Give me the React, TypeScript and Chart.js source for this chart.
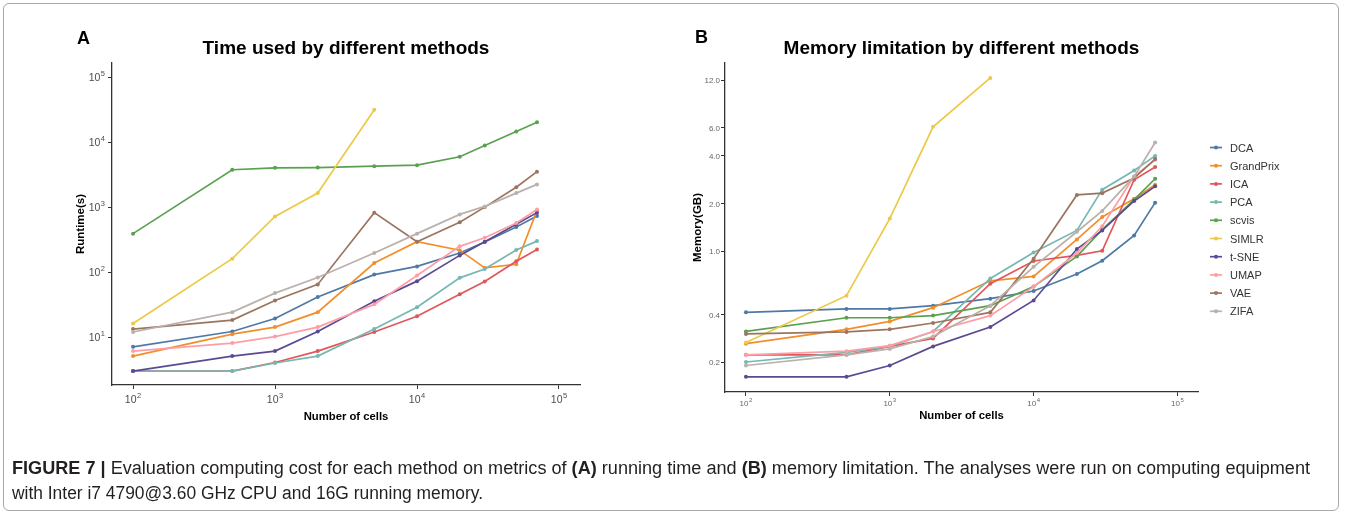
import React, { useEffect, useRef } from "react";
import { Chart, registerables } from "chart.js";

Chart.register(...registerables);

const FONT = "'Liberation Sans', Arial, Helvetica, sans-serif";

const methods = ["DCA", "GrandPrix", "ICA", "PCA", "scvis", "SIMLR", "t-SNE", "UMAP", "VAE", "ZIFA"];
const colors = ["#4E79A7", "#F28E2B", "#E15759", "#76B7B2", "#59A14F", "#EDC948", "#5B4A92", "#FF9DA7", "#9C755F", "#BAB0AC"];
const cells = [100, 500, 1000, 2000, 5000, 10000, 20000, 30000, 50000, 70000];

// Runtime (s)
const runtimeDCA = [7.1, 12.2, 19.4, 41.6, 92, 123, 198, 292, 500, 735];
const runtimeGrandPrix = [5.1, 11.1, 14.3, 24.3, 139, 296, 219, 117, 133, 900];
const runtimeICA = [3.0, 3.0, 4.07, 6.1, 12, 21, 46, 72, 148, 224];
const runtimePCA = [3.0, 3.0, 4.0, 5.1, 13.3, 29, 82, 112, 220, 302];
const runtimeScvis = [394, 3800, 4070, 4100, 4320, 4470, 6030, 8990, 14800, 20500];
const runtimeSIMLR = [16.2, 162, 725, 1660, 32000];
const runtimeTSNE = [3.0, 5.1, 6.1, 12.2, 35.8, 73, 182, 296, 550, 830];
const runtimeUMAP = [6.1, 8.1, 10.2, 14.3, 32, 89, 251, 340, 575, 930];
const runtimeVAE = [13.3, 18.3, 36.7, 65, 830, 296, 590, 1010, 2040, 3550];
const runtimeZIFA = [12, 24.3, 47.7, 83, 198, 394, 780, 1035, 1660, 2260];

// Memory (GB)
const memoryDCA = [0.413, 0.434, 0.434, 0.455, 0.504, 0.563, 0.72, 0.874, 1.26, 2.03];
const memoryGrandPrix = [0.262, 0.323, 0.362, 0.442, 0.653, 0.696, 1.19, 1.65, 2.15, 2.63];
const memoryICA = [0.223, 0.223, 0.252, 0.283, 0.626, 0.87, 0.944, 1.01, 2.83, 3.4];
const memoryPCA = [0.201, 0.231, 0.252, 0.313, 0.676, 0.985, 1.356, 2.45, 3.24, 4.0];
const memoryScvis = [0.313, 0.382, 0.382, 0.394, 0.455, 0.6, 0.93, 1.37, 2.12, 2.87];
const memorySIMLR = [0.267, 0.526, 1.61, 6.1, 12.4];
const memoryTSNE = [0.162, 0.162, 0.191, 0.252, 0.334, 0.491, 1.035, 1.356, 2.08, 2.57];
const memoryUMAP = [0.223, 0.235, 0.255, 0.313, 0.394, 0.6, 0.977, 1.44, 2.97, 3.78];
const memoryVAE = [0.302, 0.311, 0.323, 0.354, 0.413, 0.9, 2.27, 2.33, 2.9, 3.82];
const memoryZIFA = [0.191, 0.223, 0.243, 0.291, 0.455, 0.8, 1.33, 1.8, 2.97, 4.86];

const runtimeSeries = [runtimeDCA, runtimeGrandPrix, runtimeICA, runtimePCA, runtimeScvis, runtimeSIMLR, runtimeTSNE, runtimeUMAP, runtimeVAE, runtimeZIFA];
const memorySeries = [memoryDCA, memoryGrandPrix, memoryICA, memoryPCA, memoryScvis, memorySIMLR, memoryTSNE, memoryUMAP, memoryVAE, memoryZIFA];

const xTickValues = [100, 1000, 10000, 100000];
const xTickExponents = ["2", "3", "4", "5"];
const runtimeTickValues = [10, 100, 1000, 10000, 100000];
const runtimeTickExponents = ["1", "2", "3", "4", "5"];
const memoryTickValues = [0.2, 0.4, 1, 2, 4, 6, 12];
const memoryTickLabels = ["0.2", "0.4", "1.0", "2.0", "4.0", "6.0", "12.0"];

const captionLine1Bold = "FIGURE 7 | ";
const captionLine1 = "Evaluation computing cost for each method on metrics of ";
const captionLine1b = " running time and ";
const captionLine1c = " memory limitation. The analyses were run on computing equipment";
const captionLine2 = "with Inter i7 4790@3.60 GHz CPU and 16G running memory.";

function buildDatasets(series: number[][]) {
  return methods.map((m, i) => ({
    label: m,
    data: series[i].map((v, j) => ({ x: cells[j], y: v })),
    borderColor: colors[i],
    backgroundColor: colors[i],
    borderWidth: 1.7,
    pointRadius: 2,
    pointBorderWidth: 0,
    pointBackgroundColor: colors[i],
    tension: 0,
    fill: false,
    order: methods.length - i,
  }));
}

function drawPow(ctx: CanvasRenderingContext2D, exp: string, x: number, baseline: number, baseSize: number, supSize: number, supRaise: number, align: "center" | "right", color: string) {
  ctx.save();
  ctx.fillStyle = color;
  ctx.textAlign = "left";
  ctx.textBaseline = "alphabetic";
  ctx.font = `${baseSize}px ${FONT}`;
  const w10 = ctx.measureText("10").width;
  ctx.font = `${supSize}px ${FONT}`;
  const wE = ctx.measureText(exp).width;
  const total = w10 + wE + 0.5;
  const start = align === "center" ? x - total / 2 : x - total;
  ctx.font = `${baseSize}px ${FONT}`;
  ctx.fillText("10", start, baseline);
  ctx.font = `${supSize}px ${FONT}`;
  ctx.fillText(exp, start + w10 + 0.5, baseline - supRaise);
  ctx.restore();
}

function axisCommon(afterFit: (s: any) => void, ticksList: number[]) {
  return {
    type: "logarithmic" as const,
    afterBuildTicks: (s: any) => {
      s.ticks = ticksList.map((v) => ({ value: v }));
    },
    afterFit,
    ticks: { callback: () => "", autoSkip: false, maxRotation: 0, padding: 0 },
    grid: { drawOnChartArea: false, drawTicks: true, tickLength: 4, color: "#333", lineWidth: 1 },
    border: { display: true, color: "#333", width: 1.3 },
  };
}

const panelAPlugin = {
  id: "panelAText",
  afterDraw(chart: any) {
    const ctx: CanvasRenderingContext2D = chart.ctx;
    const ca = chart.chartArea;
    const xs = chart.scales.x;
    const ys = chart.scales.y;
    const cx = (ca.left + ca.right) / 2;
    ctx.save();
    ctx.fillStyle = "#000";
    ctx.textBaseline = "alphabetic";
    ctx.textAlign = "left";
    ctx.font = `bold 18px ${FONT}`;
    ctx.fillText("A", 77, 44);
    ctx.textAlign = "center";
    ctx.font = `bold 19px ${FONT}`;
    ctx.fillText("Time used by different methods", cx, 54);
    ctx.font = `bold 11.3px ${FONT}`;
    ctx.fillText("Number of cells", cx, 420);
    ctx.save();
    ctx.translate(83.5, (ca.top + ca.bottom) / 2);
    ctx.rotate(-Math.PI / 2);
    ctx.font = `bold 11.5px ${FONT}`;
    ctx.fillText("Runtime(s)", 0, 0);
    ctx.restore();
    ctx.restore();
    xTickValues.forEach((v, i) => {
      drawPow(ctx, xTickExponents[i], xs.getPixelForValue(v), 403, 10.5, 7.5, 5, "center", "#4d4d4d");
    });
    runtimeTickValues.forEach((v, i) => {
      const y = ys.getPixelForValue(v);
      drawPow(ctx, runtimeTickExponents[i], 105, y + 3.8, 10.5, 7.5, 5, "right", "#4d4d4d");
    });
  },
};

const panelBPlugin = {
  id: "panelBText",
  afterDraw(chart: any) {
    const ctx: CanvasRenderingContext2D = chart.ctx;
    const ca = chart.chartArea;
    const xs = chart.scales.x;
    const ys = chart.scales.y;
    const cx = (ca.left + ca.right) / 2;
    ctx.save();
    ctx.fillStyle = "#000";
    ctx.textBaseline = "alphabetic";
    ctx.textAlign = "left";
    ctx.font = `bold 18px ${FONT}`;
    ctx.fillText("B", 15, 43);
    ctx.textAlign = "center";
    ctx.font = `bold 19px ${FONT}`;
    ctx.fillText("Memory limitation by different methods", cx, 54);
    ctx.font = `bold 11.3px ${FONT}`;
    ctx.fillText("Number of cells", cx, 419);
    ctx.save();
    ctx.translate(20.5, (ca.top + ca.bottom) / 2);
    ctx.rotate(-Math.PI / 2);
    ctx.font = `bold 11.5px ${FONT}`;
    ctx.fillText("Memory(GB)", 0, 0);
    ctx.restore();
    // y tick labels
    ctx.fillStyle = "#666";
    ctx.textAlign = "right";
    ctx.font = `8px ${FONT}`;
    memoryTickValues.forEach((v, i) => {
      ctx.fillText(memoryTickLabels[i], 40, ys.getPixelForValue(v) + 3);
    });
    // legend
    methods.forEach((m, i) => {
      const y = 147.5 + i * 18.2;
      ctx.strokeStyle = colors[i];
      ctx.lineWidth = 1.7;
      ctx.beginPath();
      ctx.moveTo(530, y);
      ctx.lineTo(542, y);
      ctx.stroke();
      ctx.fillStyle = colors[i];
      ctx.beginPath();
      ctx.arc(536, y, 2, 0, Math.PI * 2);
      ctx.fill();
      ctx.fillStyle = "#333";
      ctx.textAlign = "left";
      ctx.font = `11px ${FONT}`;
      ctx.fillText(m, 550, y + 4);
    });
    ctx.restore();
    xTickValues.forEach((v, i) => {
      drawPow(ctx, xTickExponents[i], xs.getPixelForValue(v), 406, 8, 6, 4, "center", "#666");
    });
  },
};

function ChartPanel(props: { left: number; width: number; height: number; build: (c: HTMLCanvasElement) => Chart }) {
  const ref = useRef<HTMLCanvasElement | null>(null);
  useEffect(() => {
    if (!ref.current) return;
    const chart = props.build(ref.current);
    return () => chart.destroy();
  }, []);
  return (
    <canvas
      ref={ref}
      width={props.width}
      height={props.height}
      style={{ position: "absolute", left: props.left, top: 0, width: props.width, height: props.height }}
    />
  );
}

function buildA(canvas: HTMLCanvasElement) {
  return new Chart(canvas, {
    type: "line",
    data: { datasets: buildDatasets(runtimeSeries) as any },
    options: {
      responsive: false,
      animation: false,
      devicePixelRatio: 1,
      layout: { padding: { left: 0, right: 100, top: 63, bottom: 0 } },
      plugins: { legend: { display: false }, tooltip: { enabled: false }, title: { display: false } },
      scales: {
        x: { ...axisCommon((s: any) => { s.height = 45; }, xTickValues), position: "bottom", min: 71.1, max: 140600 },
        y: { ...axisCommon((s: any) => { s.width = 112; }, runtimeTickValues), position: "left", min: 1.83, max: 168000 },
      },
    } as any,
    plugins: [panelAPlugin],
  });
}

function buildB(canvas: HTMLCanvasElement) {
  return new Chart(canvas, {
    type: "line",
    data: { datasets: buildDatasets(memorySeries) as any },
    options: {
      responsive: false,
      animation: false,
      devicePixelRatio: 1,
      layout: { padding: { left: 0, right: 156, top: 63, bottom: 0 } },
      plugins: { legend: { display: false }, tooltip: { enabled: false }, title: { display: false } },
      scales: {
        x: { ...axisCommon((s: any) => { s.height = 38; }, xTickValues), position: "bottom", min: 71.5, max: 139000 },
        y: { ...axisCommon((s: any) => { s.width = 45; }, memoryTickValues), position: "left", min: 0.13, max: 15.4 },
      },
    } as any,
    plugins: [panelBPlugin],
  });
}

export default function App() {
  return (
    <div style={{ position: "fixed", left: 0, top: 0, width: 1354, height: 515, background: "#fff", overflow: "hidden" }}>
      <div
        style={{
          position: "absolute",
          left: 3,
          top: 3,
          width: 1336,
          height: 508,
          border: "1px solid #a8a8a8",
          borderRadius: 6,
          boxSizing: "border-box",
        }}
      />
      <ChartPanel left={0} width={680} height={430} build={buildA} />
      <ChartPanel left={680} width={674} height={430} build={buildB} />
      <svg width={1354} height={515} style={{ position: "absolute", left: 0, top: 0, pointerEvents: "none" }}>
        <text
          x={12}
          y={474}
          textLength={1298}
          lengthAdjust="spacingAndGlyphs"
          style={{ fontFamily: "'Liberation Sans Narrow', 'Liberation Sans', Arial, sans-serif", fontSize: 18, fill: "#231f20" }}
        >
          <tspan fontWeight="bold">{captionLine1Bold}</tspan>
          {captionLine1}
          <tspan fontWeight="bold">(A)</tspan>
          {captionLine1b}
          <tspan fontWeight="bold">(B)</tspan>
          {captionLine1c}
        </text>
        <text
          x={12}
          y={499}
          textLength={471}
          lengthAdjust="spacingAndGlyphs"
          style={{ fontFamily: "'Liberation Sans Narrow', 'Liberation Sans', Arial, sans-serif", fontSize: 18, fill: "#231f20" }}
        >
          {captionLine2}
        </text>
      </svg>
    </div>
  );
}
